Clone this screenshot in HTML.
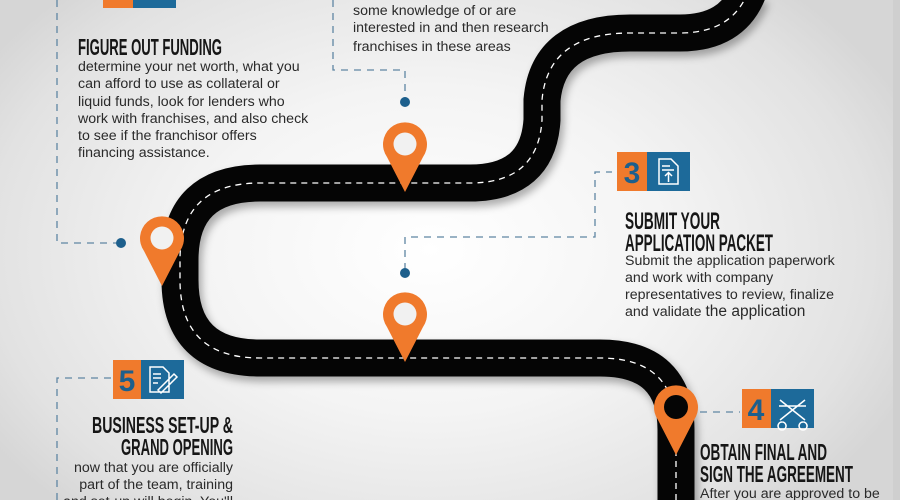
<!DOCTYPE html>
<html><head><meta charset="utf-8"><style>
html,body{margin:0;padding:0}
body{width:900px;height:500px;overflow:hidden;background:radial-gradient(ellipse 520px 360px at 430px 250px,#ffffff 0%,#f4f4f4 45%,#e2e2e2 85%,#d6d6d6 100%);}
svg{position:absolute;left:0;top:0}
.h{font-family:"Liberation Sans",sans-serif;font-weight:bold;fill:#161616}
.b{font-family:"Liberation Sans",sans-serif;font-size:14.2px;fill:#2a2a2a}
</style></head><body>
<svg width="900" height="500" viewBox="0 0 900 500">
<defs><filter id="sh" x="-20%" y="-20%" width="140%" height="140%"><feGaussianBlur stdDeviation="4"/></filter></defs>
<rect x="893" y="0" width="7" height="500" fill="#cfcfcf"/>
<path d="M748 -8 Q732 33 680 33 L630 33 Q548 33 542 100 L542 120 Q538 183 470 183 L260 183 Q180 183 180 260 L180 280 Q180 358 260 358 L600 358 Q676 358 676 430 L676 510" fill="none" stroke="#000" stroke-opacity="0.3" stroke-width="38" filter="url(#sh)" transform="translate(3,5)"/>
<path d="M748 -8 Q732 33 680 33 L630 33 Q548 33 542 100 L542 120 Q538 183 470 183 L260 183 Q180 183 180 260 L180 280 Q180 358 260 358 L600 358 Q676 358 676 430 L676 510" fill="none" stroke="#050505" stroke-width="37"/>
<path d="M748 -8 Q732 33 680 33 L630 33 Q548 33 542 100 L542 120 Q538 183 470 183 L260 183 Q180 183 180 260 L180 280 Q180 358 260 358 L600 358 Q676 358 676 430 L676 510" fill="none" stroke="#fff" stroke-width="1.3" stroke-dasharray="6 5"/>
<g fill="none" stroke="#5f86a3" stroke-width="1.3" stroke-dasharray="7 6">
<path d="M57 0 L57 243 L118 243"/>
<path d="M333 0 L333 70 L405 70 L405 98"/>
<path d="M405 270 L405 237 L595 237 L595 172 L612 172"/>
<path d="M700 412 L740 412"/>
<path d="M57 500 L57 378 L112 378"/>
</g>
<g fill="#1d5f8c"><circle cx="405" cy="102" r="5"/><circle cx="121" cy="243" r="5"/><circle cx="405" cy="273" r="5"/></g>
<g fill="#f07a2c">
<path d="M405 192 L387 157 A22 22 0 1 1 423 157 Z"/>
<path d="M162 286 L144 251 A22 22 0 1 1 180 251 Z"/>
<path d="M405 362 L387 327 A22 22 0 1 1 423 327 Z"/>
<path d="M676 455 L658 420 A22 22 0 1 1 694 420 Z"/>
</g>
<g fill="#f1f1f1"><circle cx="405" cy="144" r="11.5"/><circle cx="162" cy="238" r="11.5"/><circle cx="405" cy="314" r="11.5"/></g>
<circle cx="676" cy="407" r="12" fill="#050505"/>
<rect x="103" y="-30" width="30" height="38" fill="#f07a2c"/><rect x="133" y="-30" width="43" height="38" fill="#1d6a9a"/>
<rect x="617" y="152" width="30" height="39" fill="#f07a2c"/><rect x="647" y="152" width="43" height="39" fill="#1d6a9a"/>
<rect x="113" y="360" width="28" height="39" fill="#f07a2c"/><rect x="141" y="360" width="43" height="39" fill="#1d6a9a"/>
<rect x="742" y="389" width="29" height="39" fill="#f07a2c"/><rect x="771" y="389" width="43" height="39" fill="#1d6a9a"/>
<g font-family="Liberation Sans,sans-serif" font-weight="bold" font-size="30" fill="#1d5f8c" text-anchor="middle">
<text x="632" y="183">3</text><text x="127" y="391">5</text><text x="756" y="420">4</text></g>
<g fill="none" stroke="#fff" stroke-width="1.5">
<path d="M659 159 h12 l7 7 v18 h-19 z M662 166 h8 M662 170 h12 M668.5 182 v-9 M665 176 l3.5 -3.5 l3.5 3.5"/>
<path d="M150 367 h13 l6 6 v19 h-19 z M153 374 h8 M153 378 h8 M153 383 h5 M158 390 l16 -16 l3 3 l-16 16 z"/>
<path d="M780 400 l25 20 M805 400 l-25 20 M779 406 h27 M782 422 a4 4 0 1 0 0.1 0 M803 422 a4 4 0 1 0 0.1 0"/>
</g>
<text class="h" x="78" y="55" font-size="23" textLength="144" lengthAdjust="spacingAndGlyphs">FIGURE OUT FUNDING</text>
<g class="b">
<text x="78" y="71">determine your net worth, what you</text>
<text x="78" y="88">can afford to use as collateral or</text>
<text x="78" y="106">liquid funds, look for lenders who</text>
<text x="78" y="123">work with franchises,  and also check</text>
<text x="78" y="140">to see if the franchisor offers</text>
<text x="78" y="157">financing assistance.</text>
<text x="353" y="15">some knowledge of or are</text>
<text x="353" y="32">interested in and then research</text>
<text x="353" y="51">franchises in these areas</text>
<text x="625" y="265">Submit the application paperwork</text>
<text x="625" y="282">and work with company</text>
<text x="625" y="299">representatives to review, finalize</text>
<text x="625" y="316">and validate <tspan font-size="15.5">the application</tspan></text>
<text x="233" y="472" text-anchor="end">now that you are officially</text>
<text x="233" y="489" text-anchor="end">part of the team, training</text>
<text x="233" y="506" text-anchor="end">and set-up will begin. You'll</text>
<text x="700" y="498">After you are approved to be</text>
</g>
<text class="h" x="625" y="229" font-size="24" textLength="95" lengthAdjust="spacingAndGlyphs">SUBMIT YOUR</text>
<text class="h" x="625" y="251" font-size="24" textLength="148" lengthAdjust="spacingAndGlyphs">APPLICATION PACKET</text>
<text class="h" x="92" y="433" font-size="23" textLength="141" lengthAdjust="spacingAndGlyphs">BUSINESS SET-UP &amp;</text>
<text class="h" x="121" y="455" font-size="23" textLength="112" lengthAdjust="spacingAndGlyphs">GRAND OPENING</text>
<text class="h" x="700" y="460" font-size="23" textLength="127" lengthAdjust="spacingAndGlyphs">OBTAIN FINAL AND</text>
<text class="h" x="700" y="482" font-size="23" textLength="153" lengthAdjust="spacingAndGlyphs">SIGN THE AGREEMENT</text>
</svg>
</body></html>
